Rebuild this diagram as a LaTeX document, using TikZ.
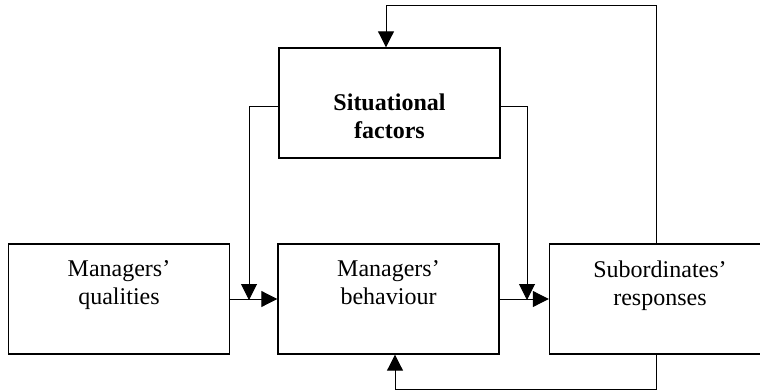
\documentclass[tikz,border=0pt]{standalone}
\usepackage{fontspec}
\setmainfont{Liberation Serif}
\usetikzlibrary{arrows.meta}

\begin{document}
\begin{tikzpicture}[x=0.5pt, y=-0.5pt,
		font=\fontsize{12}{14}\selectfont,
		box/.style={rectangle, draw, line width=0.7pt, inner sep=0pt,
			minimum width=110.5pt, minimum height=55pt},
		lbl/.style={align=center, inner sep=0pt, anchor=north},
		l_1/.style={line width=0.5pt},
		arr/.style={l_1, -{Triangle[length=8pt, width=8pt]}}]
	\useasboundingbox (0,0) rectangle (760,390);
	% boxes
	\node[box] (situ) at (389.5,103) {};
	\node[box] (qual) at (119,299) {};
	\node[box] (beh) at (388.5,299) {};
	\node[box] (resp) at (660,299) {};
	
	% texts
	\node[lbl, font=\fontsize{12}{14}\selectfont\bfseries] (situtxt) at (389.5,93) {Situational\\factors};
	\node[lbl] (qualtxt) at (119,260) {Managers'\\qualities};
	\node[lbl] (behtxt) at (388.5,260) {Managers'\\behaviour};
	\node[lbl] (resptxt) at (660,260) {Subordinates'\\responses};
	
	% joints and corners
	\coordinate (jl) at (249,300);
	\coordinate (jr) at (527,300);
	\coordinate (tr) at (656,6);
	\coordinate (tl) at (386,6);
	\coordinate (br) at (656,389);
	\coordinate (bl) at (395,389);
	
	% main flow
	\draw[arr] (qual.east) -- (beh.west);
	\draw[arr] (beh.east) -- (resp.west);
	\draw[arr] ([yshift=-2pt]situ.west) -| (jl);
	\draw[arr] ([yshift=-2pt]situ.east) -| (jr);
	
	% feedback loops
	\draw[arr] (resp.north -| tr) -- (tr) -- (tl) -- (situ.north -| tl);
	\draw[arr] (resp.south -| br) -- (br) -- (bl) -- (beh.south -| bl);
\end{tikzpicture}
\end{document}
